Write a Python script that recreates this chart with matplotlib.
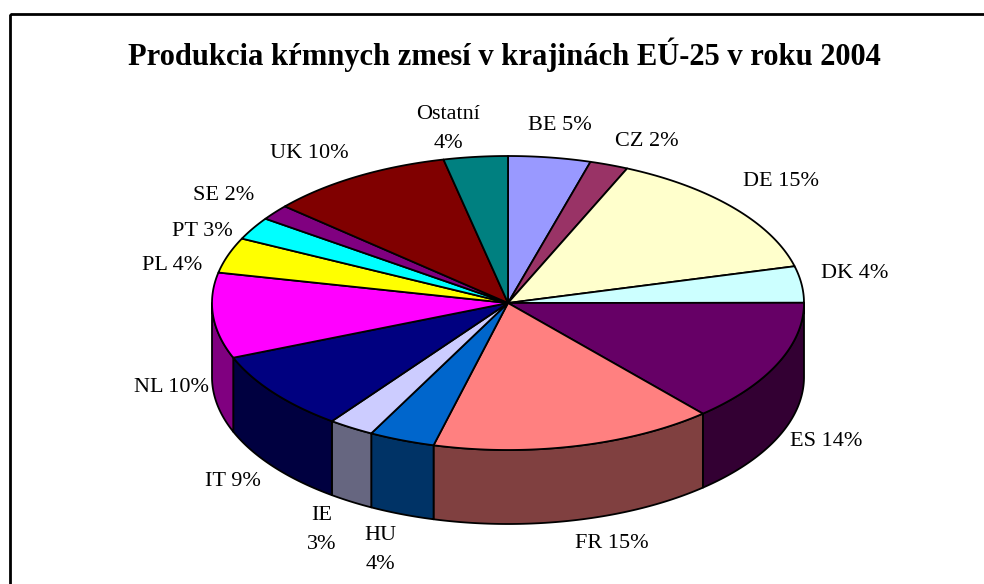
import numpy as np
import matplotlib
matplotlib.use('Agg')
from matplotlib import pyplot as plt
from matplotlib.patches import Polygon, Rectangle

# shares (percent, clockwise from 12 o'clock)
countries = ['BE', 'CZ', 'DE', 'DK', 'ES', 'FR', 'HU', 'IE', 'IT', 'NL', 'PL', 'PT', 'SE', 'UK', 'Ostatní']
shares = [4.5, 2.1, 14.4, 4.0, 13.6, 15.5, 3.6, 2.5, 8.8, 9.4, 3.9, 2.5, 1.7, 10.1, 3.5]
labels = ['BE 5%', 'CZ 2%', 'DE 15%', 'DK 4%', 'ES 14%', 'FR 15%', 'HU\n4%', 'IE\n3%', 'IT 9%',
          'NL 10%', 'PL 4%', 'PT 3%', 'SE 2%', 'UK 10%', 'Ostatní\n4%']
colors = ['#9999FF', '#993366', '#FFFFCC', '#CCFFFF', '#660066', '#FF8080', '#0066CC', '#CCCCFF',
          '#000080', '#FF00FF', '#FFFF00', '#00FFFF', '#800080', '#800000', '#008080']

title = 'Produkcia kŕmnych zmesí v krajinách EÚ-25 v roku 2004'

# layout (pixels)
cx, cy = 508, 303
rx, ry = 296, 147
depth = 74
label_pos = [(560, 125), (647, 141), (781, 182), (855, 273), (826, 442), (612, 543), (380, 550),
             (322, 530), (233, 482), (172, 388), (172, 265), (202, 232), (224, 195), (309, 153),
             (448, 129)]


def darker(c, f=0.5):
    rgb = np.array(matplotlib.colors.to_rgb(c))
    return tuple(rgb * f)


def ell(t, dy=0):
    return cx + rx * np.sin(t), cy - ry * np.cos(t) + dy


fig = plt.figure(figsize=(9.84, 5.84), dpi=100)
ax = fig.add_axes([0, 0, 1, 1])
ax.set_xlim(0, 984)
ax.set_ylim(584, 0)
ax.axis('off')

# frame (only top and left edges are inside the picture)
ax.add_patch(Rectangle((9.5, 13.5), 1200, 800, fill=False, edgecolor='black', linewidth=2))

frac = np.array(shares) / np.sum(shares)
edges = np.concatenate([[0], np.cumsum(frac)]) * 2 * np.pi

# side walls, only the front half of the cylinder is visible
for i in range(len(shares)):
    a = max(edges[i], np.pi / 2)
    b = min(edges[i + 1], 3 * np.pi / 2)
    if b <= a:
        continue
    t = np.linspace(a, b, 80)
    xt, yt = ell(t)
    xb, yb = ell(t[::-1], depth)
    pts = np.column_stack([np.concatenate([xt, xb]), np.concatenate([yt, yb])])
    ax.add_patch(Polygon(pts, closed=True, facecolor=darker(colors[i]), edgecolor='black',
                         linewidth=1.3, joinstyle='round'))

# top faces
for i in range(len(shares)):
    t = np.linspace(edges[i], edges[i + 1], 120)
    xt, yt = ell(t)
    pts = np.column_stack([np.concatenate([[cx], xt]), np.concatenate([[cy], yt])])
    ax.add_patch(Polygon(pts, closed=True, facecolor=colors[i], edgecolor='black',
                         linewidth=1.3, joinstyle='round'))

for (x, y), lab in zip(label_pos, labels):
    ax.text(x, y, lab, ha='center', va='center', fontsize=16, family='Liberation Serif',
            linespacing=1.75)

ax.text(504, 55, title, ha='center', va='center', fontsize=22, fontweight='bold',
        family='Liberation Serif')

fig.savefig('out.png', dpi=100)
